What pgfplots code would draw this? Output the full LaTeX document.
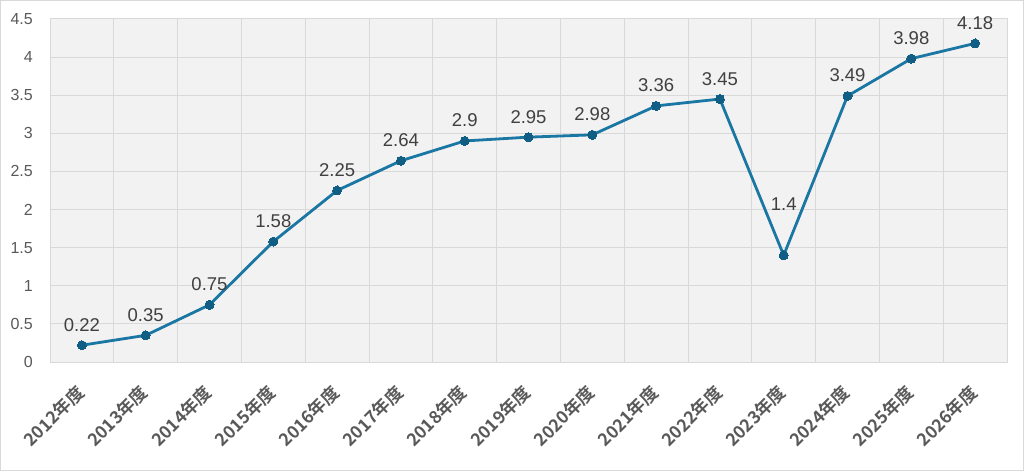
\documentclass[border=0pt]{standalone}
\usepackage{pgfplots}
\pgfplotsset{compat=1.18}
\usepackage{fontspec}
\setmainfont{Liberation Sans}
\newfontfamily\cjk{Noto Sans CJK JP}[BoldFont={Noto Sans CJK JP Bold}]
\definecolor{plotbg}{HTML}{F2F2F2}
\definecolor{gridc}{HTML}{D9D9D9}
\definecolor{labc}{HTML}{595959}
\definecolor{datc}{HTML}{404040}
\definecolor{linec}{HTML}{1A76A3}
\definecolor{markc}{HTML}{115E85}
\definecolor{framec}{HTML}{D9D9D9}
\pgfplotstableread{
x y lab dy
0 0.22 0.22 10.5
1 0.35 0.35 10.5
2 0.75 0.75 10.5
3 1.58 1.58 10.5
4 2.25 2.25 10.5
5 2.64 2.64 10.5
6 2.9 2.9 10.5
7 2.95 2.95 10.5
8 2.98 2.98 10.5
9 3.36 3.36 10.5
10 3.45 3.45 10.5
11 1.4 1.4 41.5
12 3.49 3.49 10.5
13 3.98 3.98 10.5
14 4.18 4.18 10.5
}\datatable
\begin{document}
\begin{tikzpicture}
\useasboundingbox (0,0) rectangle (1024pt,471pt);
\draw[draw=framec, line width=1pt] (0.5pt,0.5pt) rectangle (1023.5pt,470.5pt);
\begin{axis}[
  at={(50pt,109pt)}, anchor=south west,
  scale only axis, width=957pt, height=343pt,
  xmin=-0.5, xmax=14.5, ymin=0, ymax=4.5,
  clip=false,
  axis background/.style={fill=plotbg},
  axis line style={draw=gridc, line width=1pt},
  xtick={0,...,14},
  xticklabels={2012年度,2013年度,2014年度,2015年度,2016年度,2017年度,2018年度,2019年度,2020年度,2021年度,2022年度,2023年度,2024年度,2025年度,2026年度},
  minor xtick={-0.5,0.5,...,14.5},
  xminorgrids,
  ytick={0,0.5,...,4.5},
  ymajorgrids,
  major grid style={draw=gridc, line width=1pt},
  minor grid style={draw=gridc, line width=1pt},
  tick style={draw=none},
  major tick length=0pt, minor tick length=0pt,
  /pgf/number format/assume math mode=true,
  yticklabel style={font=\fontsize{16}{16}\selectfont, text=labc, inner sep=0pt, xshift=-17pt},
  xticklabel style={font=\cjk\bfseries\fontsize{17.5}{17.5}\selectfont, text=labc, inner sep=0pt, xshift=-7pt, yshift=-21pt, rotate=45, anchor=north east},
  nodes near coords,
  point meta=explicit symbolic,
  visualization depends on={\thisrow{dy} \as \dy},
  nodes near coords style={font=\fontsize{18.5}{18.5}\selectfont, text=datc, anchor=south, yshift=\dy pt},
]
\addplot[color=linec, line width=2.8pt, mark=*, mark size=4.5pt, mark options={fill=markc, draw=markc, line width=0pt}] table[x=x, y=y, meta=lab] {\datatable};
\end{axis}
\end{tikzpicture}
\end{document}
